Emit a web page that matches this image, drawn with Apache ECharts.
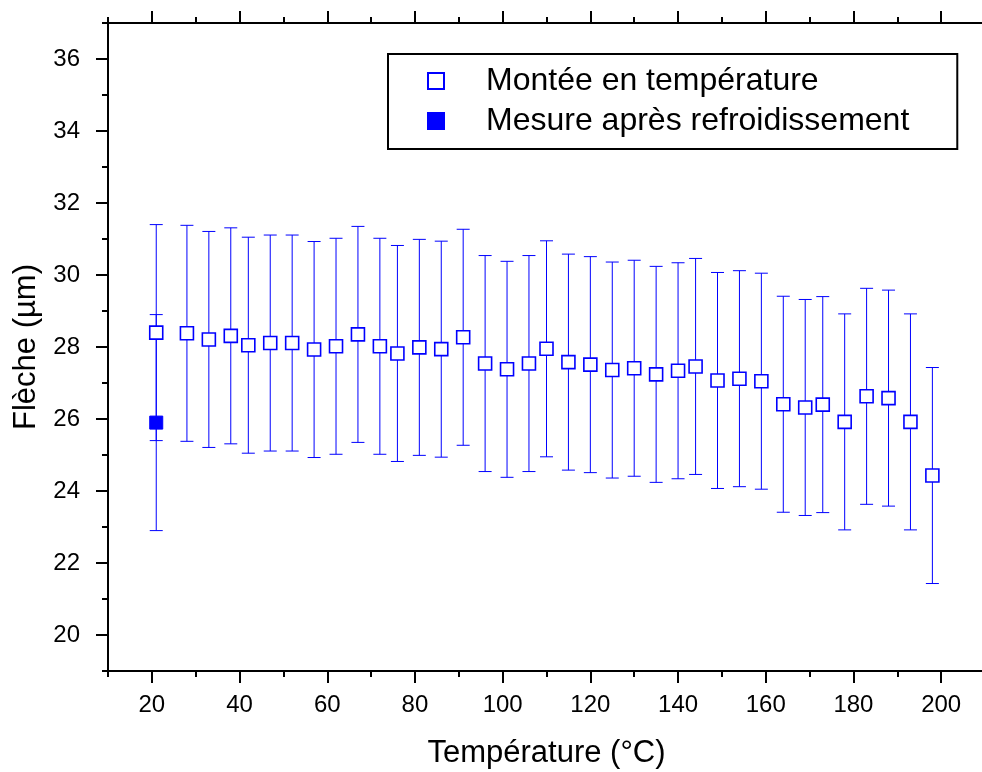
<!DOCTYPE html>
<html>
<head>
<meta charset="utf-8">
<script src="https://cdn.jsdelivr.net/npm/echarts@6/dist/echarts.min.js"></script>
<style>
  html, body { margin: 0; padding: 0; background: #fff; }
  #main { width: 982px; height: 772px; }
</style>
</head>
<body>
<div id="main"></div>
<script>
// données
var temperatures = [21, 28, 33, 38, 42, 47, 52, 57, 62, 67, 72, 76, 81, 86, 91, 96, 101, 106, 110,
  115, 120, 125, 130, 135, 140, 144, 149, 154, 159, 164, 169, 173, 178, 183, 188, 193, 198];
var fleche = [28.40, 28.38, 28.21, 28.31, 28.05, 28.11, 28.11, 27.93, 28.02, 28.35, 28.02, 27.82,
  27.99, 27.94, 28.27, 27.54, 27.38, 27.54, 27.95, 27.58, 27.51, 27.36, 27.41, 27.24, 27.34,
  27.46, 27.07, 27.12, 27.05, 26.41, 26.32, 26.40, 25.92, 26.63, 26.58, 25.92, 24.43];
var erreur = [3, 3, 3, 3, 3, 3, 3, 3, 3, 3, 3, 3, 3, 3, 3, 3, 3, 3, 3,
  3, 3, 3, 3, 3, 3, 3, 3, 3, 3, 3, 3, 3, 3, 3, 3, 3, 3];

var tempRefroid = [21];
var flecheRefroid = [25.9];
var erreurRefroid = [3];

var xMajor = [20, 40, 60, 80, 100, 120, 140, 160, 180, 200];
var xMinor = [10, 30, 50, 70, 90, 110, 130, 150, 170, 190, 210];
var yMajor = [20, 22, 24, 26, 28, 30, 32, 34, 36];
var yMinor = [19, 21, 23, 25, 27, 29, 31, 33, 35, 37];

var nomMontee = 'Montée en température';
var nomRefroid = 'Mesure après refroidissement';

var bleu = '#0000ff';
var police = 'Liberation Sans, Arial, sans-serif';

function pts(xs, ys, es) {
  return xs.map(function (x, i) { return [x, ys[i], es[i]]; });
}

function barresErreur(params, api) {
  var x = api.value(0), y = api.value(1), e = api.value(2);
  var haut = api.coord([x, y + e]);
  var bas = api.coord([x, y - e]);
  var demi = 6.5;
  var st = { stroke: bleu, lineWidth: 1 };
  return {
    type: 'group',
    children: [
      { type: 'line', shape: { x1: haut[0], y1: haut[1], x2: bas[0], y2: bas[1] }, style: st },
      { type: 'line', shape: { x1: haut[0] - demi, y1: haut[1], x2: haut[0] + demi, y2: haut[1] }, style: st },
      { type: 'line', shape: { x1: bas[0] - demi, y1: bas[1], x2: bas[0] + demi, y2: bas[1] }, style: st }
    ]
  };
}

function axeX(pos, ticks, len, main) {
  var bas = pos === 'bottom';
  return {
    type: 'value', position: pos, min: 10, max: 210,
    name: main && bas ? 'Température (°C)' : '',
    nameLocation: 'middle', nameGap: 67,
    nameTextStyle: { fontSize: 31, color: '#000', fontFamily: police },
    axisLine: { show: main, onZero: false, lineStyle: { color: '#000', width: 2 } },
    axisTick: { show: true, inside: false, length: len, customValues: ticks, lineStyle: { color: '#000', width: 2 } },
    axisLabel: { show: main && bas, customValues: xMajor, margin: 22, fontSize: 24, color: '#000', fontFamily: police },
    splitLine: { show: false }
  };
}

function axeY(pos, ticks, len, main) {
  var gauche = pos === 'left';
  return {
    type: 'value', position: pos, min: 19, max: 37,
    name: main && gauche ? 'Flèche (µm)' : '',
    nameLocation: 'middle', nameGap: 55,
    nameTextStyle: { fontSize: 31, color: '#000', fontFamily: police },
    axisLine: { show: main, onZero: false, lineStyle: { color: '#000', width: 2 } },
    axisTick: { show: true, inside: false, length: len, customValues: ticks, lineStyle: { color: '#000', width: 2 } },
    axisLabel: { show: main && gauche, customValues: yMajor, margin: 28, fontSize: 24, color: '#000', fontFamily: police },
    splitLine: { show: false }
  };
}

var chart = echarts.init(document.getElementById('main'), null, { renderer: 'canvas' });
chart.setOption({
  backgroundColor: '#fff',
  animation: false,
  grid: { left: 108, top: 23, right: -3, bottom: 101, outerBoundsMode: 'none', containLabel: false },
  legend: {
    data: [nomMontee, nomRefroid],
    orient: 'vertical',
    left: 388, top: 54,
    padding: [11, 48, 12, 39],
    itemWidth: 16, itemHeight: 16, itemGap: 8,
    borderColor: '#000', borderWidth: 2,
    textStyle: { fontSize: 32, color: '#000', fontFamily: police, padding: [0, 0, 0, 37] }
  },
  xAxis: [
    axeX('bottom', xMajor, 12, true),
    axeX('bottom', xMinor, 6, false),
    axeX('top', xMajor, 12, true),
    axeX('top', xMinor, 6, false)
  ],
  yAxis: [
    axeY('left', yMajor, 12, true),
    axeY('left', yMinor, 6, false),
    axeY('right', yMajor, 12, true),
    axeY('right', yMinor, 6, false)
  ],
  series: [
    {
      name: 'erreur montée', type: 'custom', renderItem: barresErreur,
      data: pts(temperatures, fleche, erreur), z: 1, silent: true
    },
    {
      name: 'erreur refroid', type: 'custom', renderItem: barresErreur,
      data: pts(tempRefroid, flecheRefroid, erreurRefroid), z: 1, silent: true
    },
    {
      name: nomMontee, type: 'scatter', symbol: 'rect', symbolSize: 13, z: 3,
      data: pts(temperatures, fleche, erreur),
      itemStyle: { color: '#fff', borderColor: bleu, borderWidth: 1.6, opacity: 1 }
    },
    {
      name: nomRefroid, type: 'scatter', symbol: 'rect', symbolSize: 13, z: 3,
      data: pts(tempRefroid, flecheRefroid, erreurRefroid),
      itemStyle: { color: bleu, borderColor: bleu, borderWidth: 1, opacity: 1 }
    }
  ]
});
</script>
</body>
</html>
